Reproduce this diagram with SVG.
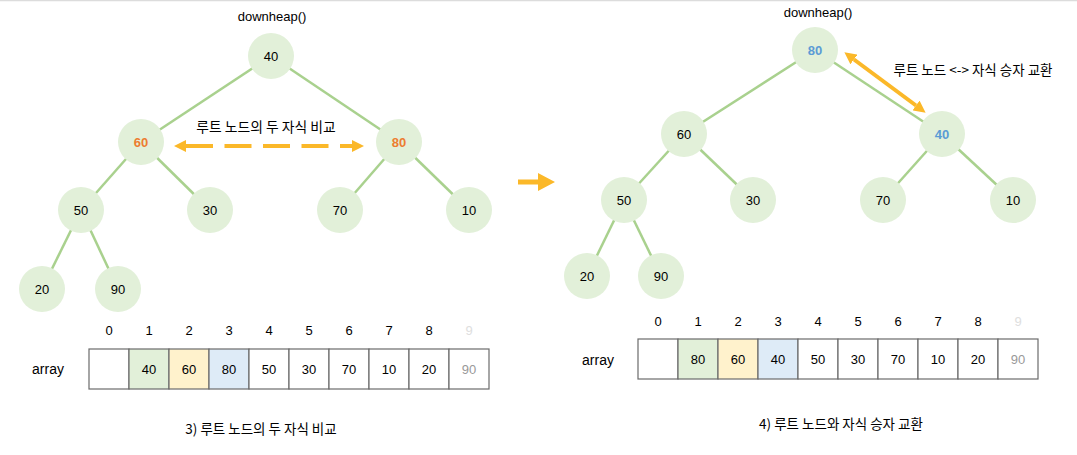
<svg xmlns="http://www.w3.org/2000/svg" width="1077" height="455" viewBox="0 0 1077 455">
<style>
.t{font-family:"Liberation Sans","Noto Sans CJK KR",sans-serif;fill:#000;}
.k{font-family:"Noto Sans CJK KR","Liberation Sans",sans-serif;fill:#000;}
.node circle{fill:#E2F0D9;}
.node text{font-family:"Liberation Sans",sans-serif;font-size:13px;text-anchor:middle;dominant-baseline:central;fill:#000;}
.node text.o{fill:#ED7D31;font-weight:bold;}
.node text.b{fill:#5B9BD5;font-weight:bold;}
.edge{stroke:#A9D18E;stroke-width:2.5;fill:none;}
.cell{stroke:#6b6b6b;stroke-width:1.2;fill:#fff;}
.ct{font-family:"Liberation Sans",sans-serif;font-size:13px;text-anchor:middle;dominant-baseline:central;fill:#000;}
.idx{font-family:"Liberation Sans",sans-serif;font-size:13px;text-anchor:middle;fill:#000;}
</style>
<defs>
<marker id="ah" viewBox="0 0 12 12" refX="0" refY="6" markerWidth="12" markerHeight="12" markerUnits="userSpaceOnUse" orient="auto-start-reverse">
<path d="M0,0 L12,6 L0,12 z" fill="#FBB829"/>
</marker>
</defs>
<rect x="0" y="0" width="1077" height="455" fill="#fff"/>
<line x1="0" y1="0.5" x2="1077" y2="0.5" stroke="#dcdcdc" stroke-width="1.5"/>

<g id="connectors">
<line class="edge" x1="271" y1="56" x2="141" y2="142"/>
<line class="edge" x1="271" y1="56" x2="399" y2="142"/>
<line class="edge" x1="141" y1="142" x2="81" y2="210"/>
<line class="edge" x1="141" y1="142" x2="210" y2="210"/>
<line class="edge" x1="399" y1="142" x2="340" y2="210"/>
<line class="edge" x1="399" y1="142" x2="469" y2="210"/>
<line class="edge" x1="81" y1="210" x2="42" y2="289"/>
<line class="edge" x1="81" y1="210" x2="118" y2="289"/>
<line class="edge" x1="815" y1="50" x2="684" y2="134"/>
<line class="edge" x1="815" y1="50" x2="942" y2="134"/>
<line class="edge" x1="684" y1="134" x2="624" y2="200"/>
<line class="edge" x1="684" y1="134" x2="753" y2="200"/>
<line class="edge" x1="942" y1="134" x2="883" y2="200"/>
<line class="edge" x1="942" y1="134" x2="1013" y2="200"/>
<line class="edge" x1="624" y1="200" x2="587" y2="276"/>
<line class="edge" x1="624" y1="200" x2="661" y2="276"/>
<line x1="186" y1="146" x2="352" y2="146" stroke="#FBB829" stroke-width="4" stroke-dasharray="27 11.5" marker-start="url(#ah)" marker-end="url(#ah)"/>
<line x1="854" y1="59.5" x2="916" y2="105.5" stroke="#FBB829" stroke-width="4" marker-start="url(#ah)" marker-end="url(#ah)"/>
<path d="M518,179.5 H538 V173 L555,182 L538,191 V184.5 H518 z" fill="#FBB829"/>
</g>

<text class="t" x="272" y="21" font-size="13" text-anchor="middle">downheap()</text>
<text class="t" x="818" y="17" font-size="13" text-anchor="middle">downheap()</text>
<text class="k" x="266" y="132" font-size="13.8" text-anchor="middle">루트 노드의 두 자식 비교</text>
<text class="k" x="973" y="75" font-size="13.5" text-anchor="middle">루트 노드 &lt;-&gt; 자식 승자 교환</text>

<g id="L40" class="node"><circle cx="271" cy="56" r="23"/><text x="271" y="56">40</text></g>
<g id="L60" class="node"><circle cx="141" cy="142" r="23"/><text class="o" x="141" y="142">60</text></g>
<g id="L80" class="node"><circle cx="399" cy="142" r="23"/><text class="o" x="399" y="142">80</text></g>
<g id="L50" class="node"><circle cx="81" cy="210" r="23"/><text x="81" y="210">50</text></g>
<g id="L30" class="node"><circle cx="210" cy="210" r="23"/><text x="210" y="210">30</text></g>
<g id="L70" class="node"><circle cx="340" cy="210" r="23"/><text x="340" y="210">70</text></g>
<g id="L10" class="node"><circle cx="469" cy="210" r="23"/><text x="469" y="210">10</text></g>
<g id="L20" class="node"><circle cx="42" cy="289" r="23"/><text x="42" y="289">20</text></g>
<g id="L90" class="node"><circle cx="118" cy="289" r="23"/><text x="118" y="289">90</text></g>

<g id="R80" class="node"><circle cx="815" cy="50" r="23"/><text class="b" x="815" y="50">80</text></g>
<g id="R60" class="node"><circle cx="684" cy="134" r="23"/><text x="684" y="134">60</text></g>
<g id="R40" class="node"><circle cx="942" cy="134" r="23"/><text class="b" x="942" y="134">40</text></g>
<g id="R50" class="node"><circle cx="624" cy="200" r="23"/><text x="624" y="200">50</text></g>
<g id="R30" class="node"><circle cx="753" cy="200" r="23"/><text x="753" y="200">30</text></g>
<g id="R70" class="node"><circle cx="883" cy="200" r="23"/><text x="883" y="200">70</text></g>
<g id="R10" class="node"><circle cx="1013" cy="200" r="23"/><text x="1013" y="200">10</text></g>
<g id="R20" class="node"><circle cx="587" cy="276" r="23"/><text x="587" y="276">20</text></g>
<g id="R90" class="node"><circle cx="661" cy="276" r="23"/><text x="661" y="276">90</text></g>

<g id="array-left">
<text class="t" x="48" y="374" font-size="14" text-anchor="middle">array</text>
<g class="idx">
<text x="109" y="335">0</text><text x="149" y="335">1</text><text x="189" y="335">2</text><text x="229" y="335">3</text><text x="269" y="335">4</text><text x="309" y="335">5</text><text x="349" y="335">6</text><text x="389" y="335">7</text><text x="429" y="335">8</text><text x="469" y="335" fill="#dedede">9</text>
</g>
<rect class="cell" x="89" y="349" width="40" height="40"/>
<rect class="cell" x="129" y="349" width="40" height="40" style="fill:#E2F0D9"/>
<rect class="cell" x="169" y="349" width="40" height="40" style="fill:#FFF2CC"/>
<rect class="cell" x="209" y="349" width="40" height="40" style="fill:#DEEBF7"/>
<rect class="cell" x="249" y="349" width="40" height="40"/>
<rect class="cell" x="289" y="349" width="40" height="40"/>
<rect class="cell" x="329" y="349" width="40" height="40"/>
<rect class="cell" x="369" y="349" width="40" height="40"/>
<rect class="cell" x="409" y="349" width="40" height="40"/>
<rect class="cell" x="449" y="349" width="40" height="40"/>
<text class="ct" x="149" y="369">40</text><text class="ct" x="189" y="369">60</text><text class="ct" x="229" y="369">80</text><text class="ct" x="269" y="369">50</text><text class="ct" x="309" y="369">30</text><text class="ct" x="349" y="369">70</text><text class="ct" x="389" y="369">10</text><text class="ct" x="429" y="369">20</text><text class="ct" x="469" y="369" style="fill:#999">90</text>
</g>

<g id="array-right">
<text class="t" x="598" y="365" font-size="14" text-anchor="middle">array</text>
<g class="idx">
<text x="658" y="326">0</text><text x="698" y="326">1</text><text x="738" y="326">2</text><text x="778" y="326">3</text><text x="818" y="326">4</text><text x="858" y="326">5</text><text x="898" y="326">6</text><text x="938" y="326">7</text><text x="978" y="326">8</text><text x="1018" y="326" fill="#dedede">9</text>
</g>
<rect class="cell" x="638" y="339" width="40" height="40"/>
<rect class="cell" x="678" y="339" width="40" height="40" style="fill:#E2F0D9"/>
<rect class="cell" x="718" y="339" width="40" height="40" style="fill:#FFF2CC"/>
<rect class="cell" x="758" y="339" width="40" height="40" style="fill:#DEEBF7"/>
<rect class="cell" x="798" y="339" width="40" height="40"/>
<rect class="cell" x="838" y="339" width="40" height="40"/>
<rect class="cell" x="878" y="339" width="40" height="40"/>
<rect class="cell" x="918" y="339" width="40" height="40"/>
<rect class="cell" x="958" y="339" width="40" height="40"/>
<rect class="cell" x="998" y="339" width="40" height="40"/>
<text class="ct" x="698" y="359">80</text><text class="ct" x="738" y="359">60</text><text class="ct" x="778" y="359">40</text><text class="ct" x="818" y="359">50</text><text class="ct" x="858" y="359">30</text><text class="ct" x="898" y="359">70</text><text class="ct" x="938" y="359">10</text><text class="ct" x="978" y="359">20</text><text class="ct" x="1018" y="359" style="fill:#999">90</text>
</g>

<text class="k" x="261" y="434" font-size="13.5" text-anchor="middle">3) 루트 노드의 두 자식 비교</text>
<text class="k" x="841" y="429" font-size="13.5" text-anchor="middle">4) 루트 노드와 자식 승자 교환</text>
</svg>
